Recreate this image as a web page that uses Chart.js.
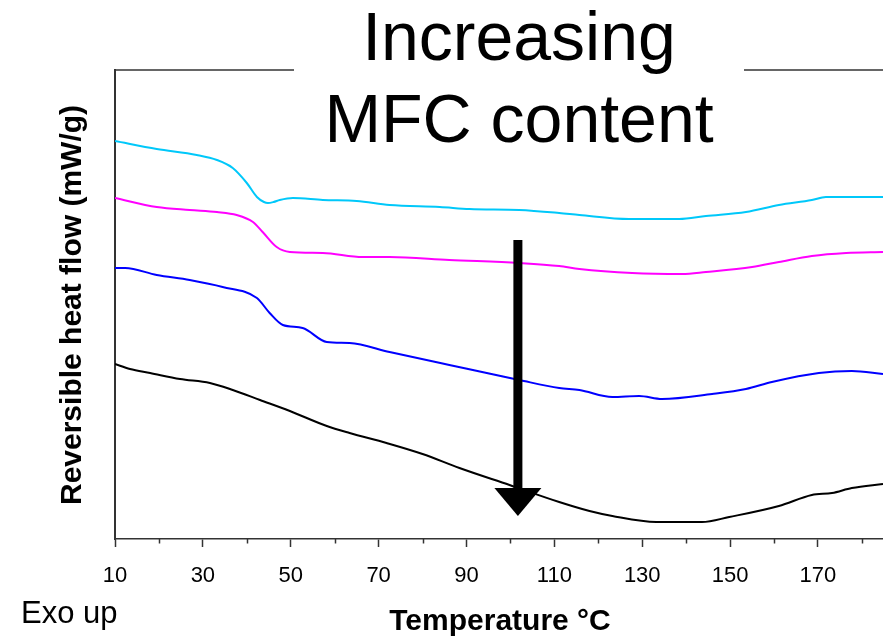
<!DOCTYPE html>
<html>
<head>
<meta charset="utf-8">
<script src="https://cdn.jsdelivr.net/npm/chart.js@4"></script>
<style>
  html, body { margin: 0; padding: 0; background: #fff; }
  canvas { display: block; }
</style>
</head>
<body>
<canvas id="c" width="883" height="638"></canvas>
<script>
// ---- data (temperature °C, reversible heat flow, arbitrary offset units) ----
const cyanTemp = [10, 19.5, 28.6, 33.2, 36.8, 40.0, 42.3, 43.9, 44.8, 46.1, 47.5, 50.5, 57.3, 65.0, 72.5, 83.9, 90.7, 102.0, 111.1, 115.7, 127.0, 138.4, 144.5, 153.6, 161.1, 168.6, 171.8, 184.8];
const cyanFlow = [3.98, 3.90, 3.84, 3.79, 3.71, 3.56, 3.42, 3.37, 3.36, 3.37, 3.39, 3.41, 3.39, 3.38, 3.34, 3.32, 3.30, 3.29, 3.26, 3.24, 3.20, 3.20, 3.23, 3.27, 3.34, 3.39, 3.42, 3.42];

const magentaTemp = [10, 19.5, 27.0, 33.2, 37.7, 41.4, 43.6, 46.8, 49.8, 57.3, 66.4, 72.5, 86.1, 102.0, 111.1, 115.7, 127.7, 139.1, 144.5, 155.0, 161.1, 168.6, 176.4, 184.8];
const magentaFlow = [3.41, 3.32, 3.29, 3.27, 3.24, 3.17, 3.07, 2.92, 2.87, 2.86, 2.82, 2.82, 2.79, 2.76, 2.73, 2.70, 2.66, 2.65, 2.67, 2.72, 2.77, 2.83, 2.86, 2.87];

const blueTemp = [10, 12.3, 19.5, 27.0, 34.5, 42.3, 45.2, 48.2, 52.7, 58.2, 63.4, 72.5, 86.1, 102.0, 111.1, 115.7, 123.2, 129.3, 134.5, 145.9, 153.6, 159.5, 170.2, 177.7, 184.8];
const blueFlow = [2.71, 2.71, 2.64, 2.59, 2.52, 2.41, 2.26, 2.14, 2.11, 1.97, 1.96, 1.87, 1.74, 1.59, 1.51, 1.49, 1.42, 1.43, 1.40, 1.45, 1.50, 1.57, 1.66, 1.68, 1.65];

const blackTemp = [10, 13.4, 18.0, 24.8, 31.6, 36.8, 43.0, 49.8, 58.2, 63.4, 71.8, 80.0, 88.4, 99.8, 111.1, 118.0, 123.2, 133.2, 143.6, 149.8, 161.1, 168.6, 173.2, 177.7, 184.8];
const blackFlow = [1.75, 1.70, 1.66, 1.60, 1.56, 1.49, 1.39, 1.28, 1.13, 1.06, 0.96, 0.85, 0.71, 0.54, 0.37, 0.28, 0.23, 0.17, 0.17, 0.22, 0.33, 0.44, 0.46, 0.51, 0.55];

const tickValues = [10, 20, 30, 40, 50, 60, 70, 80, 90, 100, 110, 120, 130, 140, 150, 160, 170, 180];
const tickLabels = [10, 30, 50, 70, 90, 110, 130, 150, 170];

// annotation arrow ("Increasing MFC content"), in data units
const arrowTemp = 101.7;
const arrowFlow = [2.99, 0.51, 0.23]; // shaft top, head base, tip

const FONT = '"Liberation Sans", Arial, Helvetica, sans-serif';
const AXIS = '#333333';

function pts(xs, ys) { return xs.map((x, i) => ({ x: x, y: ys[i] })); }

const overlay = {
  id: 'overlay',
  afterDraw(chart) {
    const { ctx, chartArea, scales } = chart;
    const x = scales.x, y = scales.y;
    ctx.save();
    // top frame line
    ctx.strokeStyle = AXIS;
    ctx.lineWidth = 1.5;
    ctx.beginPath();
    ctx.moveTo(chartArea.left, chartArea.top);
    ctx.lineTo(chartArea.right, chartArea.top);
    ctx.stroke();
    // minor ticks
    tickValues.filter(v => !tickLabels.includes(v)).forEach(v => {
      const px = Math.round(x.getPixelForValue(v)) + 0.5;
      ctx.beginPath();
      ctx.moveTo(px, chartArea.bottom);
      ctx.lineTo(px, chartArea.bottom + 4.5);
      ctx.stroke();
    });
    // arrow
    const ax = x.getPixelForValue(arrowTemp);
    const yTop = y.getPixelForValue(arrowFlow[0]);
    const yHead = y.getPixelForValue(arrowFlow[1]);
    const yTip = y.getPixelForValue(arrowFlow[2]);
    ctx.fillStyle = '#000';
    ctx.fillRect(ax - 4.5, yTop, 9, yHead - yTop + 1);
    ctx.beginPath();
    ctx.moveTo(ax - 23.5, yHead);
    ctx.lineTo(ax + 23.5, yHead);
    ctx.lineTo(ax, yTip);
    ctx.closePath();
    ctx.fill();
    // text box
    ctx.fillStyle = '#fff';
    ctx.fillRect(294, 0, 450, 155);
    ctx.fillStyle = '#000';
    ctx.font = '68px ' + FONT;
    ctx.textAlign = 'center';
    ctx.textBaseline = 'alphabetic';
    ctx.fillText('Increasing', 519, 60);
    ctx.fillText('MFC content', 519, 142);
    // axis titles
    ctx.font = 'bold 30px ' + FONT;
    ctx.fillText('Temperature °C', 500, 630);
    ctx.textAlign = 'left';
    ctx.font = '31px ' + FONT;
    ctx.fillText('Exo up', 21, 623);
    ctx.translate(81, 305);
    ctx.rotate(-Math.PI / 2);
    ctx.textAlign = 'center';
    ctx.font = 'bold 30px ' + FONT;
    ctx.fillText('Reversible heat flow (mW/g)', 0, 0);
    ctx.restore();
  }
};

const lineStyle = { pointRadius: 0, borderWidth: 2, fill: false, tension: 0.3, cubicInterpolationMode: 'monotone' };

new Chart(document.getElementById('c'), {
  type: 'line',
  data: {
    datasets: [
      Object.assign({ label: 'cyan', data: pts(cyanTemp, cyanFlow), borderColor: '#00C8FA' }, lineStyle),
      Object.assign({ label: 'magenta', data: pts(magentaTemp, magentaFlow), borderColor: '#FF00FF' }, lineStyle),
      Object.assign({ label: 'blue', data: pts(blueTemp, blueFlow), borderColor: '#0000FF' }, lineStyle),
      Object.assign({ label: 'black', data: pts(blackTemp, blackFlow), borderColor: '#000000' }, lineStyle)
    ]
  },
  options: {
    responsive: false,
    animation: false,
    layout: { padding: { top: 70, left: 0, right: 0, bottom: 0 } },
    plugins: { legend: { display: false }, tooltip: { enabled: false }, title: { display: false } },
    scales: {
      x: {
        type: 'linear',
        min: 10,
        max: 184.8,
        afterBuildTicks: s => { s.ticks = tickValues.map(v => ({ value: v })); },
        afterFit: s => { s.height = 99; },
        ticks: {
          autoSkip: false,
          maxRotation: 0,
          padding: 16,
          color: '#000',
          font: { size: 22, family: FONT },
          callback: v => tickLabels.includes(v) ? String(v) : ''
        },
        grid: {
          drawOnChartArea: false,
          drawTicks: true,
          tickLength: 8,
          tickWidth: 1.5,
          tickColor: c => (c.tick && tickLabels.includes(c.tick.value)) ? AXIS : 'rgba(0,0,0,0)'
        },
        border: { display: true, color: AXIS, width: 1.5 }
      },
      y: {
        min: 0,
        max: 4.69,
        afterFit: s => { s.width = 115; },
        ticks: { display: false },
        grid: { drawOnChartArea: false, drawTicks: false },
        border: { display: true, color: AXIS, width: 2 }
      }
    }
  },
  plugins: [overlay]
});
</script>
</body>
</html>
